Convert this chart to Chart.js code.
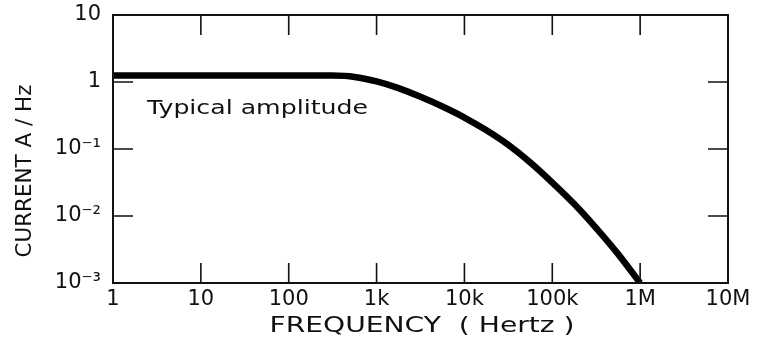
<!DOCTYPE html>
<html>
<head>
<meta charset="utf-8">
<script src="https://cdn.jsdelivr.net/npm/chart.js@4"></script>
<style>
  html, body { margin: 0; padding: 0; background: #fff; }
  #wrap { width: 760px; height: 350px; }
</style>
</head>
<body>
<div id="wrap"><canvas id="ampChart" width="760" height="350"></canvas></div>
<script>
// values
const freqs = [1, 10, 100, 316, 562, 1000, 1780, 3160, 5620, 10000, 17800, 31600, 56200, 100000, 178000, 316000, 562000, 1000000];
const amps = [1.25, 1.25, 1.25, 1.245, 1.19, 1.02, 0.81, 0.60, 0.43, 0.295, 0.19, 0.115, 0.063, 0.0316, 0.0151, 0.0066, 0.0027, 0.001];

const xTicks = [1, 10, 100, 1000, 10000, 100000, 1000000, 10000000];
const xTickLabels = ['1', '10', '100', '1k', '10k', '100k', '1M', '10M'];
const yTicks = [0.001, 0.01, 0.1, 1, 10];
const yTickLabels = ['10\u207B\u00B3', '10\u207B\u00B2', '10\u207B\u00B9', '1', '10'];

const textColor = '#111';
const fontFamily = '"DejaVu Sans", "Liberation Sans", sans-serif';

// draw text stretched to a given width (the scan is stretched sideways)
function stretchText(ctx, text, x, y, width, align) {
    const w = ctx.measureText(text).width;
    ctx.save();
    ctx.translate(x, y);
    ctx.scale(width / w, 1);
    ctx.textAlign = align;
    ctx.fillText(text, 0, 0);
    ctx.restore();
}

const framePlugin = {
    id: 'frame',
    afterDatasetsDraw(chart) {
        const { ctx, chartArea: a, scales: { x, y } } = chart;
        ctx.save();
        ctx.strokeStyle = '#111';
        ctx.lineWidth = 2;
        ctx.strokeRect(a.left, a.top, a.right - a.left, a.bottom - a.top);

        // inward tick marks on all four sides
        ctx.lineWidth = 1.6;
        ctx.beginPath();
        xTicks.slice(1, -1).forEach(v => {
            const px = x.getPixelForValue(v);
            ctx.moveTo(px, a.top); ctx.lineTo(px, a.top + 20);
            ctx.moveTo(px, a.bottom); ctx.lineTo(px, a.bottom - 20);
        });
        yTicks.slice(1, -1).forEach(v => {
            const py = y.getPixelForValue(v);
            ctx.moveTo(a.left, py); ctx.lineTo(a.left + 20, py);
            ctx.moveTo(a.right, py); ctx.lineTo(a.right - 20, py);
        });
        ctx.stroke();

        ctx.fillStyle = textColor;
        ctx.textBaseline = 'middle';
        ctx.font = '20px ' + fontFamily;
        stretchText(ctx, 'Typical amplitude', 147, 109, 221, 'left');
        ctx.font = '22px ' + fontFamily;
        stretchText(ctx, 'FREQUENCY  ( Hertz )', 422, 326, 305, 'center');

        ctx.save();
        ctx.translate(25, 171);
        ctx.rotate(-Math.PI / 2);
        ctx.font = '22px ' + fontFamily;
        stretchText(ctx, 'CURRENT A / Hz', 0, 0, 173, 'center');
        ctx.restore();
        ctx.restore();
    }
};

const ctx = document.getElementById('ampChart').getContext('2d');
new Chart(ctx, {
    type: 'line',
    data: {
        datasets: [{
            data: freqs.map((f, i) => ({ x: f, y: amps[i] })),
            borderColor: '#000',
            borderWidth: 6.5,
            pointRadius: 0,
            fill: false,
            cubicInterpolationMode: 'monotone'
        }]
    },
    options: {
        responsive: false,
        animation: false,
        layout: { padding: { left: 0, right: 32, top: 15, bottom: 0 } },
        plugins: {
            legend: { display: false },
            tooltip: { enabled: false }
        },
        scales: {
            x: {
                type: 'logarithmic',
                min: 1,
                max: 10000000,
                afterBuildTicks: scale => { scale.ticks = xTicks.map(v => ({ value: v })); },
                afterFit: scale => {
                    scale.height = 350 - 283;
                    scale.paddingLeft = 0;
                    scale.paddingRight = 0;
                },
                grid: { display: false, drawTicks: false },
                border: { display: false },
                ticks: {
                    autoSkip: false,
                    maxRotation: 0,
                    padding: 4,
                    color: textColor,
                    font: { family: fontFamily, size: 21 },
                    callback: (v, i) => xTickLabels[i]
                }
            },
            y: {
                type: 'logarithmic',
                min: 0.001,
                max: 10,
                afterBuildTicks: scale => { scale.ticks = yTicks.map(v => ({ value: v })); },
                afterFit: scale => {
                    scale.width = 113;
                    scale.paddingTop = 0;
                    scale.paddingBottom = 0;
                },
                grid: { display: false, drawTicks: false },
                border: { display: false },
                ticks: {
                    autoSkip: false,
                    padding: 12,
                    color: textColor,
                    font: { family: fontFamily, size: 21 },
                    callback: (v, i) => yTickLabels[i]
                }
            }
        }
    },
    plugins: [framePlugin]
});
</script>
</body>
</html>
